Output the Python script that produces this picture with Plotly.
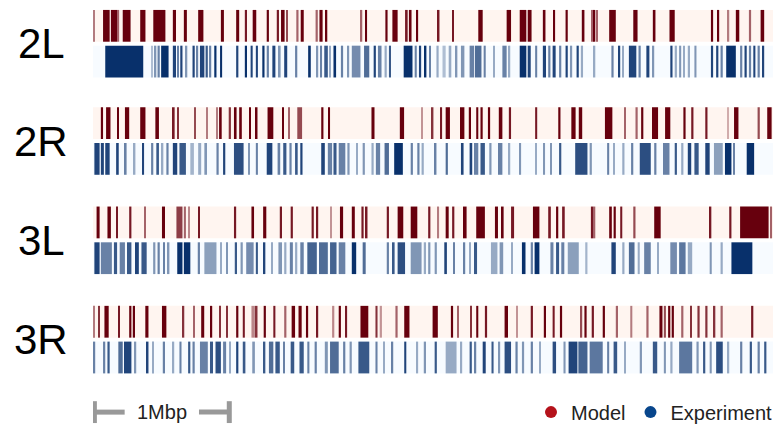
import plotly.graph_objects as go

# ---------------- data (genome position in kb, band start/end, signal 0..1) ----
CHROMS = ["2L", "2R", "3L", "3R"]
TRACK_KB = 4940
SCALE_KB = 1000
SERIES = ["Model", "Experiment"]

MODEL_2L = [(0,8,0.5),(73,121,1),(130,175,1),(178,190,0.6),(216,273,1),(343,381,1),(438,526,1),
 (580,603,1),(660,682,1),(764,802,1),(929,951,1),(1040,1062,1),(1103,1119,0.9),(1160,1186,1),
 (1262,1278,1),(1335,1351,0.9),(1366,1392,1),(1405,1414,0.7),(1477,1493,0.6),(1509,1531,1),
 (1617,1633,0.6),(1645,1668,1),(1690,1702,1),(1943,1956,0.6),(1978,1991,1),(2124,2140,1),
 (2175,2213,1),(2267,2286,0.9),(2295,2314,1),(2349,2362,1),(2505,2517,0.9),(2609,2622,0.9),
 (2799,2831,1),(3005,3037,1),(3100,3148,1),(3158,3186,1),(3268,3287,1),(3345,3357,1),
 (3433,3449,1),(3551,3570,1),(3623,3636,0.6),(3639,3649,1),(3655,3665,0.6),(3750,3798,1),
 (3925,3956,1),(4067,4086,1),(4188,4226,1),(4489,4505,1),(4533,4549,1),(4606,4622,0.5),
 (4670,4695,1),(4765,4781,0.6),(4850,4876,1)]

EXP_2L = [(89,365,1),(422,431,0.3),(447,460,0.5),(469,485,0.6),(495,549,1),(580,603,0.9),
 (612,621,0.6),(634,650,0.9),(675,685,0.5),(723,739,0.9),(755,764,0.6),(777,809,0.9),
 (818,834,0.8),(843,859,0.6),(881,897,1),(923,938,1),(1040,1056,0.9),(1103,1119,1),
 (1145,1160,0.9),(1183,1198,0.9),(1230,1246,1),(1262,1278,0.6),(1303,1325,0.9),(1351,1363,0.5),
 (1389,1411,0.9),(1468,1484,0.6),(1563,1582,1),(1626,1636,0.5),(1652,1664,0.6),(1680,1706,0.8),
 (1715,1728,0.4),(1747,1766,1),(1801,1817,0.6),(1848,1861,0.5),(1880,1943,0.55),(1969,2007,0.7),
 (2039,2055,0.9),(2070,2096,0.6),(2118,2134,0.4),(2150,2165,0.8),(2257,2321,1),(2337,2352,0.6),
 (2368,2384,0.9),(2409,2422,1),(2441,2454,0.6),(2495,2511,0.4),(2539,2562,0.3),(2584,2603,0.4),
 (2635,2647,0.5),(2673,2698,0.5),(2736,2768,0.6),(2774,2822,0.7),(2838,2853,0.6),(2910,2920,0.4),
 (2974,3005,0.6),(3021,3031,0.4),(3100,3148,1),(3158,3180,0.9),(3212,3227,0.6),(3268,3291,0.9),
 (3307,3323,0.6),(3339,3361,0.9),(3386,3402,0.6),(3433,3449,0.9),(3465,3481,0.5),(3513,3529,0.9),
 (3544,3560,0.4),(3639,3649,0.4),(3766,3782,0.6),(3814,3830,0.9),(3845,3855,0.4),(3893,3947,0.9),
 (3963,3979,0.6),(4020,4042,0.9),(4067,4077,0.5),(4194,4210,0.9),(4226,4242,0.4),(4258,4273,0.5),
 (4289,4299,0.4),(4321,4337,0.4),(4369,4384,0.5),(4489,4505,0.9),(4527,4543,0.9),(4559,4575,0.6),
 (4600,4670,1),(4701,4717,0.6),(4733,4749,0.9),(4765,4781,0.6),(4797,4812,0.9),(4828,4844,0.6),
 (4860,4876,0.9)]

MODEL_2R = [(57,73,1),(95,127,1),(175,187,1),(232,263,1),(343,381,1),(453,479,1),(580,593,0.9),
 (612,625,0.8),(739,748,0.7),(828,834,0.5),(897,907,0.5),(916,935,1),(986,1002,0.8),(1024,1043,1),
 (1062,1081,1),(1135,1148,1),(1183,1195,1),(1268,1310,1),(1373,1385,1),(1420,1430,0.6),
 (1484,1519,0.7),(1658,1674,1),(1709,1722,1),(2023,2045,1),(2229,2260,1),(2387,2394,0.4),
 (2460,2473,0.8),(2524,2536,0.9),(2562,2593,1),(2666,2698,1),(2730,2746,1),(2784,2799,1),
 (2815,2831,1),(2869,2885,1),(2948,2974,1),(3021,3037,0.9),(3212,3227,0.9),(3380,3396,1),
 (3475,3506,1),(3529,3554,1),(3719,3773,1),(3861,3871,0.6),(3941,3957,0.6),(3982,3998,1),
 (4061,4105,1),(4156,4194,1),(4289,4305,1),(4346,4362,0.9),(4448,4464,0.9),(4606,4616,0.3),
 (4657,4689,1),(4828,4844,0.7),(4898,4930,1)]

EXP_2R = [(10,48,0.9),(57,79,0.9),(89,121,0.9),(168,187,0.9),(232,244,0.6),(295,308,0.4),
 (358,371,0.9),(422,438,0.6),(460,479,0.8),(501,511,0.4),(533,549,0.6),(580,612,0.9),
 (628,675,0.8),(707,733,0.35),(764,786,0.4),(809,828,0.5),(897,913,0.6),(945,961,0.9),
 (1024,1094,0.85),(1126,1138,0.5),(1183,1198,0.6),(1262,1303,0.9),(1341,1360,0.6),(1382,1405,0.8),
 (1427,1443,0.6),(1468,1487,0.8),(1506,1522,0.9),(1658,1684,0.9),(1706,1737,0.6),(1747,1769,0.8),
 (1785,1833,0.6),(1848,1864,0.5),(1912,1924,0.4),(1959,1975,0.5),(2023,2039,0.4),(2055,2086,0.6),
 (2118,2150,0.7),(2188,2251,1),(2308,2324,0.6),(2356,2372,0.6),(2387,2403,0.4),(2482,2495,0.6),
 (2562,2578,0.7),(2673,2692,0.9),(2736,2755,0.9),(2768,2799,0.6),(2815,2847,0.8),(2879,2895,0.5),
 (2942,2974,0.6),(3021,3031,0.4),(3100,3110,0.5),(3212,3221,0.4),(3275,3284,0.5),(3323,3332,0.5),
 (3386,3402,0.8),(3503,3592,0.85),(3608,3624,0.5),(3735,3750,0.6),(3782,3792,0.4),(3845,3861,0.4),
 (3909,3925,0.6),(3972,4052,0.85),(4077,4093,0.6),(4141,4188,0.6),(4226,4242,0.8),(4273,4289,0.4),
 (4321,4346,0.9),(4369,4400,0.8),(4448,4480,0.9),(4511,4575,0.45),(4591,4638,1),(4654,4664,0.6),
 (4749,4803,1)]

MODEL_3L = [(26,48,1),(105,130,1),(168,181,0.9),(263,279,0.9),(374,384,0.6),(501,523,1),
 (606,650,0.75),(660,675,0.6),(691,701,0.45),(764,777,0.9),(1024,1040,0.9),(1151,1170,1),
 (1236,1259,1),(1357,1373,0.9),(1436,1452,0.9),(1588,1604,0.9),(1620,1636,0.9),(1722,1731,0.4),
 (1794,1817,1),(1880,1902,1),(1950,1966,0.9),(1982,1994,0.9),(2134,2150,0.9),(2213,2254,1),
 (2308,2356,1),(2435,2451,0.9),(2505,2514,0.5),(2562,2584,1),(2609,2625,0.9),(2688,2714,1),
 (2784,2847,1),(2920,2942,1),(2964,2983,1),(3037,3059,0.9),(3196,3243,1),(3307,3326,0.9),
 (3364,3380,1),(3408,3427,0.9),(3617,3633,0.9),(3639,3649,0.6),(3750,3769,1),(3782,3798,1),
 (3830,3845,0.9),(3925,3941,0.7),(4077,4124,1),(4480,4492,0.9),(4622,4638,0.9),(4701,4908,1),
 (4924,4933,0.6)]

EXP_3L = [(10,48,0.9),(57,137,0.6),(152,175,0.8),(194,232,0.6),(247,279,0.8),(305,333,0.9),
 (352,390,0.8),(437,453,0.5),(469,485,0.6),(511,523,0.6),(542,555,0.5),(612,650,1),(660,707,1),
 (761,777,0.6),(809,897,0.45),(923,935,0.4),(967,980,0.5),(1030,1046,0.8),(1072,1088,0.5),
 (1113,1167,0.55),(1183,1198,0.8),(1240,1252,0.9),(1294,1303,0.4),(1347,1373,0.5),(1389,1405,0.4),
 (1430,1452,0.6),(1468,1484,0.4),(1506,1531,0.6),(1557,1626,0.75),(1642,1706,0.7),(1722,1769,0.75),
 (1785,1833,0.6),(1880,1912,1),(1959,1981,0.7),(2134,2150,0.6),(2172,2191,0.8),(2213,2267,0.85),
 (2308,2387,0.5),(2403,2419,0.4),(2435,2451,0.5),(2482,2498,0.5),(2552,2571,0.9),(2616,2628,0.6),
 (2688,2704,0.6),(2736,2746,0.4),(2768,2790,0.8),(2891,2938,0.4),(2954,2980,0.5),(3037,3046,0.4),
 (3116,3142,1),(3180,3196,0.6),(3208,3243,1),(3323,3345,0.6),(3364,3386,0.8),(3402,3424,0.6),
 (3449,3529,0.45),(3576,3592,0.35),(3766,3798,0.9),(3845,3861,0.4),(3893,3934,0.7),(3957,3972,0.4),
 (4004,4052,0.6),(4099,4109,0.4),(4194,4242,0.55),(4258,4305,0.65),(4321,4353,0.4),(4480,4495,0.5),
 (4559,4575,0.4),(4638,4790,1)]

MODEL_3R = [(0,8,0.5),(41,51,0.8),(83,114,1),(184,194,0.9),(263,279,1),(289,305,1),(380,403,1),
 (501,533,1),(650,663,0.8),(729,739,0.6),(786,808,1),(850,866,1),(919,929,0.8),(967,980,0.8),
 (1040,1056,1),(1088,1103,0.9),(1151,1176,0.45),(1183,1195,0.8),(1240,1256,1),(1310,1325,0.9),
 (1389,1405,0.6),(1443,1468,1),(1493,1516,1),(1547,1563,1),(1620,1636,0.9),(1737,1753,0.45),
 (1785,1801,1),(1836,1846,0.9),(1943,2000,1),(2052,2067,0.8),(2083,2099,0.4),(2197,2213,0.6),
 (2261,2299,1),(2467,2505,1),(2600,2616,1),(2647,2657,0.6),(2742,2752,0.8),(2784,2799,1),
 (2847,2863,0.9),(2990,3015,1),(3078,3085,0.4),(3180,3196,0.9),(3275,3291,1),(3339,3354,0.9),
 (3392,3408,1),(3538,3554,0.7),(3570,3586,1),(3623,3639,0.9),(3703,3719,1),(3798,3814,0.6),
 (3903,3918,0.5),(4020,4036,0.6),(4115,4137,1),(4147,4162,0.7),(4178,4194,1),(4204,4220,1),
 (4273,4289,0.6),(4337,4346,0.8),(4391,4407,0.8),(4448,4464,0.8),(4511,4521,0.8),(4559,4575,0.6),
 (4781,4797,0.9)]

EXP_3R = [(3,16,0.6),(73,89,0.6),(105,121,0.8),(184,216,0.7),(225,279,0.9),(305,314,0.5),
 (390,403,0.9),(431,441,0.4),(507,523,0.6),(580,590,0.4),(628,643,0.6),(691,707,0.8),(723,739,0.6),
 (777,834,0.6),(850,872,0.8),(890,929,0.85),(945,967,0.6),(992,1002,0.4),(1040,1056,0.9),
 (1088,1107,0.8),(1157,1176,0.5),(1240,1252,0.8),(1278,1310,0.7),(1325,1357,0.8),(1382,1395,0.6),
 (1436,1462,0.8),(1500,1531,0.8),(1557,1572,0.6),(1610,1626,0.6),(1684,1706,0.5),(1722,1785,0.7),
 (1817,1833,0.6),(1864,1880,0.5),(1928,2007,0.8),(2052,2067,0.6),(2112,2121,0.4),(2165,2181,0.6),
 (2261,2276,0.9),(2349,2362,0.4),(2403,2419,0.5),(2482,2498,0.8),(2562,2641,0.4),(2673,2682,0.4),
 (2736,2752,0.8),(2768,2784,0.6),(2831,2853,0.9),(2895,2910,0.8),(2942,2958,0.5),(2990,3037,0.85),
 (3069,3085,0.6),(3116,3132,0.5),(3180,3196,0.6),(3243,3253,0.4),(3339,3364,0.85),(3418,3433,0.5),
 (3455,3519,0.9),(3526,3592,0.75),(3608,3703,0.65),(3735,3750,0.6),(3782,3808,0.8),(3861,3871,0.4),
 (3972,3988,0.5),(4067,4099,0.8),(4147,4162,0.5),(4194,4210,0.4),(4258,4353,0.65),(4384,4400,0.5),
 (4432,4448,0.8),(4480,4495,0.5),(4527,4575,0.85),(4613,4622,0.4),(4701,4717,0.6),(4771,4787,0.8),
 (4828,4844,0.6),(4876,4892,0.8)]

MODEL = [MODEL_2L, MODEL_2R, MODEL_3L, MODEL_3R]
EXPERIMENT = [EXP_2L, EXP_2R, EXP_3L, EXP_3R]

# ---------------- layout constants ----------------
W, H = 778, 432
ROW_TOP = [10, 108, 208, 308]     # top of model track per chromosome
TRACK_H = 32
GAP = 4
BAR_Y = 415
RED_SCALE = [[0, "#fff5f0"], [1, "#67000d"]]
BLUE_SCALE = [[0, "#f7fbff"], [1, "#08306b"]]
FONT = "Liberation Sans, Arial, Helvetica"

fig = go.Figure()


def add_track(bands, y0, cscale):
    xs = [TRACK_KB / 2] + [(s + e) / 2 for s, e, v in bands]
    ws = [TRACK_KB] + [e - s for s, e, v in bands]
    vs = [0] + [v for s, e, v in bands]
    n = len(xs)
    fig.add_trace(go.Bar(
        x=xs, width=ws, y=[TRACK_H] * n, base=[y0] * n,
        marker=dict(color=vs, colorscale=cscale, cmin=0, cmax=1, line_width=0),
        showlegend=False, hoverinfo="skip"))


for i, chrom in enumerate(CHROMS):
    top = ROW_TOP[i]
    add_track(MODEL[i], top, RED_SCALE)
    add_track(EXPERIMENT[i], top + TRACK_H + GAP, BLUE_SCALE)
    fig.add_annotation(x=41 / W, xref="paper", xanchor="center",
                       y=top + TRACK_H + GAP / 2, yref="y", yanchor="middle",
                       text=chrom, showarrow=False,
                       font=dict(size=42, family=FONT, color="black"))

# legend entries
for name, col in zip(SERIES, ["#b5121b", "#08468c"]):
    fig.add_trace(go.Scatter(x=[None], y=[None], mode="markers", name=name,
                             marker=dict(size=15, color=col)))

# scale bar (1 Mbp)
grey = "#999999"
fig.add_shape(type="line", xref="x", yref="y", x0=0, x1=0.23 * SCALE_KB, y0=BAR_Y, y1=BAR_Y,
              line=dict(color=grey, width=5))
fig.add_shape(type="line", xref="x", yref="y", x0=0.77 * SCALE_KB, x1=SCALE_KB, y0=BAR_Y, y1=BAR_Y,
              line=dict(color=grey, width=5))
for xc in [0.01 * SCALE_KB, 0.99 * SCALE_KB]:
    fig.add_shape(type="line", xref="x", yref="y", x0=xc, x1=xc, y0=BAR_Y - 11, y1=BAR_Y + 11,
                  line=dict(color=grey, width=5))
fig.add_annotation(x=SCALE_KB / 2, xref="x", xanchor="center", y=BAR_Y, yref="y",
                   text="1Mbp", showarrow=False,
                   font=dict(size=20, family=FONT, color="#222222"))

fig.update_layout(
    width=W, height=H, margin=dict(l=0, r=0, t=0, b=0),
    plot_bgcolor="white", paper_bgcolor="white",
    barmode="overlay",
    xaxis=dict(domain=[93 / W, 773 / W], range=[0, TRACK_KB], visible=False, fixedrange=True),
    yaxis=dict(domain=[0, 1], range=[H, 0], visible=False, fixedrange=True),
    legend=dict(orientation="h", x=1.0, xanchor="right", y=(H - BAR_Y) / H, yanchor="middle",
                font=dict(size=20, family=FONT, color="#222222"),
                bgcolor="rgba(0,0,0,0)", itemsizing="constant", itemwidth=30,
                tracegroupgap=0),
    showlegend=True,
)

fig.write_html("out.html", config={"displayModeBar": False},
               post_script="document.body.style.margin='0';")
